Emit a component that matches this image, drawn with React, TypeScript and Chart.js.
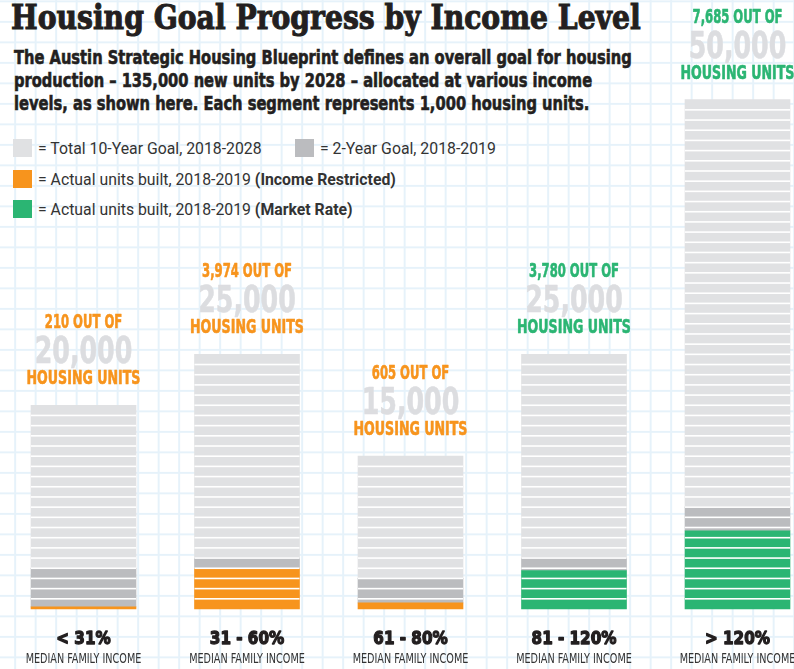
import React, { useEffect, useRef } from "react";
import { Chart, registerables } from "chart.js";

Chart.register(...registerables);

// ---------- data ----------
const categories = ["< 31%", "31 - 60%", "61 - 80%", "81 - 120%", "> 120%"];
const categorySubLabel = "MEDIAN FAMILY INCOME";
const totalGoal = [20000, 25000, 15000, 25000, 50000];
const twoYearGoal = [4000, 5000, 3000, 5000, 10000];
const unitsBuilt = [210, 3974, 605, 3780, 7685];
const builtType = ["Income Restricted", "Income Restricted", "Income Restricted", "Market Rate", "Market Rate"];
const segmentSize = 1000;

const titleText = "Housing Goal Progress by Income Level";
const subtitleLines = [
  "The Austin Strategic Housing Blueprint defines an overall goal for housing",
  "production \u2013 135,000 new units by 2028 \u2013 allocated at various income",
  "levels, as shown here. Each segment represents 1,000 housing units.",
];

// ---------- styles ----------
const C = {
  light: "#e0e1e3",
  dark: "#bbbcbf",
  orange: "#f7941d",
  green: "#2bb573",
  bigNum: "#dcdde0",
  ink: "#231f20",
  legendText: "#333333",
};
const typeColor = (t: string) => (t === "Market Rate" ? C.green : C.orange);

const NARROW = '"Liberation Sans Narrow", "DejaVu Sans Condensed", sans-serif';

function drawText(
  ctx: CanvasRenderingContext2D,
  text: string,
  x: number,
  y: number,
  font: string,
  color: string,
  sx: number,
  stroke = 0
) {
  ctx.save();
  ctx.font = font;
  ctx.fillStyle = color;
  ctx.textAlign = "center";
  ctx.textBaseline = "alphabetic";
  ctx.translate(x, y);
  ctx.scale(sx, 1);
  ctx.fillText(text, 0, 0);
  if (stroke > 0) {
    ctx.strokeStyle = color;
    ctx.lineWidth = stroke;
    ctx.lineJoin = "round";
    ctx.strokeText(text, 0, 0);
  }
  ctx.restore();
}

const segmentPlugin = {
  id: "segments",
  afterDatasetsDraw(chart: any) {
    const ctx = chart.ctx;
    const y = chart.scales.y;
    const meta = chart.getDatasetMeta(0);
    ctx.save();
    ctx.fillStyle = "#ffffff";
    meta.data.forEach((el: any, i: number) => {
      const w = el.width;
      for (let v = segmentSize; v < totalGoal[i]; v += segmentSize) {
        const py = y.getPixelForValue(v);
        ctx.fillRect(el.x - w / 2, py - 0.8, w, 1.6);
      }
    });
    ctx.restore();
  },
};

const labelPlugin = {
  id: "barLabels",
  afterDatasetsDraw(chart: any) {
    const ctx = chart.ctx;
    const yScale = chart.scales.y;
    const topMeta = chart.getDatasetMeta(2);
    const base = yScale.getPixelForValue(0);
    topMeta.data.forEach((el: any, i: number) => {
      const cx = el.x;
      const top = el.y;
      const col = typeColor(builtType[i]);
      drawText(ctx, `${unitsBuilt[i].toLocaleString("en-US")} OUT OF`, cx, top - 77, `bold 19px ${NARROW}`, col, 0.68, 0.6);
      drawText(ctx, totalGoal[i].toLocaleString("en-US"), cx, top - 42, `bold 38px ${NARROW}`, C.bigNum, 0.74, 0.6);
      drawText(ctx, "HOUSING UNITS", cx, top - 21, `bold 19.5px ${NARROW}`, col, 0.72, 0.6);
      drawText(ctx, categories[i], cx, base + 34.5, `bold 18.5px "DejaVu Sans", sans-serif`, C.ink, 0.82, 1.4);
      drawText(ctx, categorySubLabel, cx, base + 54, `14.5px ${NARROW}`, C.legendText, 0.74);
    });
  },
};

const legendItems = [
  { color: C.light, text: "= Total 10-Year Goal, 2018-2028", bold: "", left: 13, top: 139 },
  { color: C.dark, text: "= 2-Year Goal, 2018-2019", bold: "", left: 295, top: 139 },
  { color: C.orange, text: "= Actual units built, 2018-2019 ", bold: "(Income Restricted)", left: 13, top: 170 },
  { color: C.green, text: "= Actual units built, 2018-2019 ", bold: "(Market Rate)", left: 13, top: 200 },
];

export default function App() {
  const canvasRef = useRef<HTMLCanvasElement | null>(null);

  useEffect(() => {
    document.body.style.margin = "0";
    const canvas = canvasRef.current;
    if (!canvas) return;
    const chart = new Chart(canvas, {
      type: "bar",
      data: {
        labels: categories,
        datasets: [
          {
            label: "Actual units built, 2018-2019",
            data: unitsBuilt,
            backgroundColor: builtType.map(typeColor),
            stack: "s",
            clip: false as any,
          },
          {
            label: "2-Year Goal, 2018-2019",
            data: twoYearGoal.map((v, i) => v - unitsBuilt[i]),
            backgroundColor: C.dark,
            stack: "s",
            clip: false as any,
          },
          {
            label: "Total 10-Year Goal, 2018-2028",
            data: totalGoal.map((v, i) => v - twoYearGoal[i]),
            backgroundColor: C.light,
            stack: "s",
            clip: false as any,
          },
        ],
      },
      options: {
        animation: false,
        responsive: true,
        maintainAspectRatio: false,
        layout: { padding: { left: 83.5, right: 56.5, top: 8, bottom: 60 } },
        datasets: { bar: { barThickness: 105, borderWidth: 0 } } as any,
        scales: {
          x: { type: "category", offset: false, stacked: true, display: false, grid: { display: false } },
          y: { stacked: true, min: 0, max: 59000, display: false },
        },
        plugins: { legend: { display: false }, tooltip: { enabled: false }, title: { display: false } },
      },
      plugins: [segmentPlugin, labelPlugin],
    });
    return () => chart.destroy();
  }, []);

  const gridBg =
    "linear-gradient(to right, #e6f2fa 0, #e6f2fa 1.6px, transparent 1.6px), linear-gradient(to bottom, #e6f2fa 0, #e6f2fa 1.6px, transparent 1.6px)";

  return (
    <div
      style={{
        position: "relative",
        width: 794,
        height: 669,
        overflow: "hidden",
        background: "#ffffff",
        backgroundImage: gridBg,
        backgroundSize: "20.5px 20.5px",
        backgroundPosition: "14.2px 0.4px",
      }}
    >
      <div
        style={{
          position: "absolute",
          left: 11,
          top: -4,
          font: "bold 34px 'DejaVu Serif', serif",
          color: C.ink,
          whiteSpace: "nowrap",
          transform: "scaleX(0.83)",
          transformOrigin: "left top",
          lineHeight: "42px",
          WebkitTextStroke: "1.1px #231f20",
        }}
      >
        {titleText}
      </div>
      {subtitleLines.map((line, i) => (
        <div
          key={i}
          style={{
            position: "absolute",
            left: 14,
            top: 46 + i * 23,
            font: `bold 20px ${NARROW}`,
            color: C.ink,
            whiteSpace: "nowrap",
            transform: "scaleX(0.816)",
            transformOrigin: "left top",
            lineHeight: "23px",
            WebkitTextStroke: "0.6px #231f20",
          }}
        >
          {line}
        </div>
      ))}
      {legendItems.map((it, i) => (
        <div
          key={i}
          style={{
            position: "absolute",
            left: it.left,
            top: it.top,
            height: 18,
            display: "flex",
            alignItems: "center",
            whiteSpace: "nowrap",
          }}
        >
          <div style={{ width: 19, height: 18, background: it.color, flex: "none" }} />
          <div
            style={{
              marginLeft: 6,
              font: "17px Roboto, sans-serif",
              color: C.legendText,
              transform: "scaleX(0.93)",
              transformOrigin: "left center",
            }}
          >
            {it.text}
            {it.bold ? <b>{it.bold}</b> : null}
          </div>
        </div>
      ))}
      <canvas ref={canvasRef} style={{ position: "absolute", left: 0, top: 0, width: 794, height: 669 }} />
    </div>
  );
}
